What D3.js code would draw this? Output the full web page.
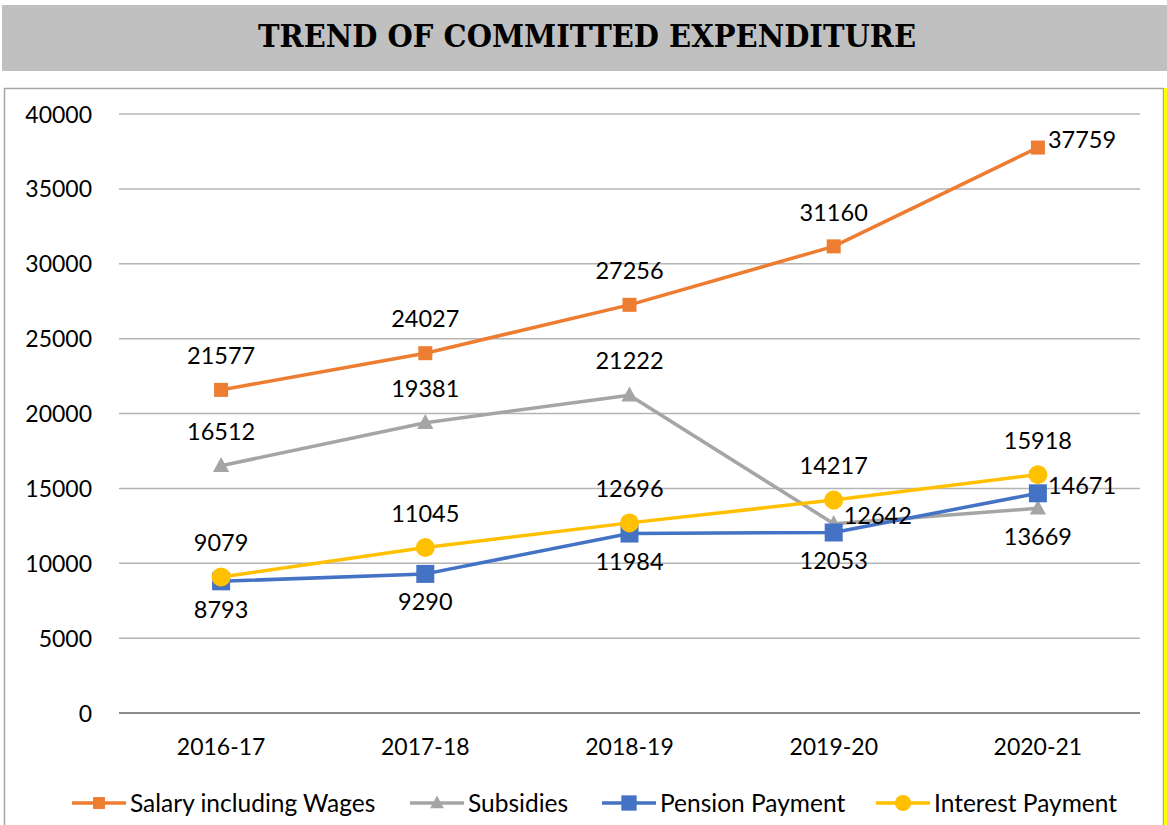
<!DOCTYPE html>
<html><head><meta charset="utf-8">
<script src="https://cdn.jsdelivr.net/npm/d3@7"></script>
<style>
html,body{margin:0;padding:0;background:#fff;}
svg{display:block;}
</style></head>
<body>
<script>
const categories = ["2016-17","2017-18","2018-19","2019-20","2020-21"];
const salary   = [21577, 24027, 27256, 31160, 37759];
const subsidies= [16512, 19381, 21222, 12642, 13669];
const pension  = [8793, 9290, 11984, 12053, 14671];
const interest = [9079, 11045, 12696, 14217, 15918];
const yTicks = [0,5000,10000,15000,20000,25000,30000,35000,40000];
const seriesNames = ["Salary including Wages","Subsidies","Pension Payment","Interest Payment"];
// label placement per point: a = above, b = below, r = right
const salaryPos   = ["a","a","a","a","r"];
const subsidiesPos= ["a","a","a","r","b"];
const pensionPos  = ["b","b","b","b","r"];
const interestPos = ["a","a","a","a","a"];

const W=1167,H=825;
const svg=d3.select("body").append("svg").attr("width",W).attr("height",H);
const FONT="Lato, 'Open Sans', sans-serif";
const FS=23;

// title band
svg.append("rect").attr("x",2).attr("y",5).attr("width",1165).attr("height",66).attr("fill","#c0c0c0");
svg.append("text").attr("x",587).attr("y",47).attr("text-anchor","middle")
  .attr("font-family","'DejaVu Serif', serif").attr("font-weight","bold").attr("font-stretch","condensed")
  .attr("font-size",32).attr("textLength",658).attr("lengthAdjust","spacingAndGlyphs")
  .attr("fill","#000").text("TREND OF COMMITTED EXPENDITURE");

// chart border
svg.append("rect").attr("x",4.5).attr("y",88.5).attr("width",1159).attr("height",760)
  .attr("fill","#fff").attr("stroke","#a6a6a0").attr("stroke-width",1.5);
svg.append("rect").attr("x",1164).attr("y",88).attr("width",3).attr("height",737).attr("fill","#ffff00");

const x=d3.scaleBand().domain(categories).range([119,1140]);
const y=d3.scaleLinear().domain([0,40000]).range([713,114]);
const cx=c=>x(c)+x.bandwidth()/2;

// gridlines
svg.append("g").selectAll("line").data(yTicks).join("line")
  .attr("x1",119).attr("x2",1140).attr("y1",d=>y(d)).attr("y2",d=>y(d))
  .attr("stroke",d=>d===0?"#8c8c8c":"#b4b4b4").attr("stroke-width",d=>d===0?2:1.5);

// y axis labels
const yAxis=d3.axisLeft(y).tickValues(yTicks).tickSize(0).tickPadding(0).tickFormat(d3.format("d"));
const ga=svg.append("g").attr("transform","translate(92,0)").call(yAxis);
ga.select(".domain").remove();
ga.selectAll("text").attr("font-family",FONT).attr("font-size",FS).attr("fill","#000").attr("dy","0.35em");

// x axis labels
const xAxis=d3.axisBottom(x).tickSize(0).tickPadding(0);
const gx=svg.append("g").attr("transform","translate(0,747)").call(xAxis);
gx.select(".domain").remove();
gx.selectAll("text").attr("font-family",FONT).attr("font-size",FS).attr("fill","#000").attr("dy","0.35em");

const series=[
  {name:seriesNames[0],vals:salary,color:"#ed7d31",shape:"square",size:14,pos:salaryPos},
  {name:seriesNames[1],vals:subsidies,color:"#a5a5a5",shape:"triangle",size:14,pos:subsidiesPos},
  {name:seriesNames[2],vals:pension,color:"#4472c4",shape:"square",size:18,pos:pensionPos},
  {name:seriesNames[3],vals:interest,color:"#ffc000",shape:"circle",size:19,pos:interestPos}
];

function marker(g,s,px,py){
  if(s.shape==="square"){
    g.append("rect").attr("x",px-s.size/2).attr("y",py-s.size/2).attr("width",s.size).attr("height",s.size).attr("fill",s.color);
  }else if(s.shape==="triangle"){
    const h=s.size;
    g.append("path").attr("d",`M${px},${py-h*0.62}L${px+h*0.58},${py+h*0.45}L${px-h*0.58},${py+h*0.45}Z`).attr("fill",s.color);
  }else{
    g.append("circle").attr("cx",px).attr("cy",py).attr("r",s.size/2).attr("fill",s.color);
  }
}

const line=d3.line().x((d,i)=>cx(categories[i])).y(d=>y(d));
series.forEach(s=>{
  const g=svg.append("g");
  g.append("path").datum(s.vals).attr("d",line).attr("fill","none").attr("stroke",s.color).attr("stroke-width",3.5).attr("stroke-linejoin","round");
  s.vals.forEach((v,i)=>marker(g,s,cx(categories[i]),y(v)));
});
// labels on top
series.forEach(s=>{
  s.vals.forEach((v,i)=>{
    const px=cx(categories[i]),py=y(v),p=s.pos[i];
    let tx=px,ty=py,anchor="middle";
    if(p==="a"){ty=py-34;}
    else if(p==="b"){ty=py+28;}
    else {tx=px+10;ty=py-8;anchor="start";}
    svg.append("text").attr("x",tx).attr("y",ty).attr("dy","0.35em").attr("text-anchor",anchor)
      .attr("font-family",FONT).attr("font-size",FS+0.5).attr("fill","#000").text(d3.format("d")(v));
  });
});

// legend
const legX=[72,410,602,876];
series.forEach((s,i)=>{
  const g=svg.append("g");
  const ly=803;
  g.append("line").attr("x1",legX[i]).attr("x2",legX[i]+54).attr("y1",ly).attr("y2",ly).attr("stroke",s.color).attr("stroke-width",3.5);
  marker(g,{...s,size:s.size*0.85},legX[i]+27,ly);
  g.append("text").attr("x",legX[i]+58).attr("y",ly).attr("dy","0.35em").attr("font-family",FONT).attr("font-size",24.5).attr("fill","#000").text(s.name);
});
</script>
</body></html>
